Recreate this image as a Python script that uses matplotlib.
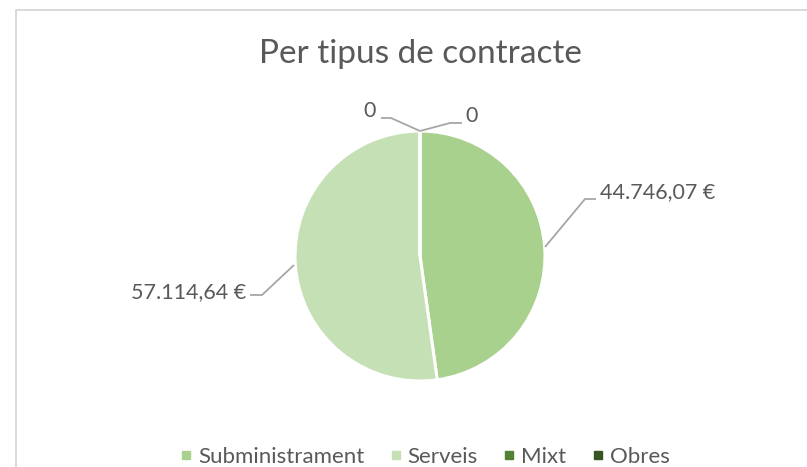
import matplotlib
matplotlib.use("Agg")
import matplotlib.pyplot as plt
from matplotlib.lines import Line2D

categories = ["Subministrament", "Serveis", "Mixt", "Obres"]
# values printed in the data labels
values = [44746.07, 57114.64, 0, 0]
# slice shares (%) as drawn in the reference picture
slice_shares = [47.8, 52.2, 0, 0]
colors = ["#A9D18E", "#C5E0B4", "#548235", "#375623"]
title = "Per tipus de contracte"

W, H = 807, 467
TXT = "#595959"
FONT = ["Lato", "DejaVu Sans"]
plt.rcParams['font.family'] = FONT

fig = plt.figure(figsize=(W / 100, H / 100), dpi=100)
ax = fig.add_axes([0, 0, 1, 1])


def Y(py):
    return H - py


cx, cy, r = 420, Y(256), 125
wedges, _ = ax.pie(slice_shares, colors=colors, startangle=90, counterclock=False,
                   center=(cx, cy), radius=r,
                   wedgeprops=dict(edgecolor="white", linewidth=2.2))
ax.set_xlim(0, W)
ax.set_ylim(0, H)
ax.set_aspect("equal")
ax.axis("off")

# chart border
ax.plot([15.5, 15.5, W + 5], [-5, Y(9.5), Y(9.5)], color="#D9D9D9", lw=1.4,
        solid_capstyle="butt", clip_on=False)


def fmt(v):
    if v == 0:
        return "0"
    s = f"{v:,.2f}".replace(",", "X").replace(".", ",").replace("X", ".")
    return s + " €"


# label layout: (text x, baseline y, ha, anchor on pie, elbow, end of leader)
layout = [
    (600, 198, "left", (545, 247), (585, 199), (596, 199)),
    (246, 298, "right", (294, 265), (262, 295), (250, 295)),
    (376, 117, "right", None, (391, 118), (381, 118)),
    (465, 122, "left", None, (450, 123), (462, 123)),
]
for v, (tx, ty, ha, anc, elb, end) in zip(values, layout):
    if anc is None:
        anc = (cx, 131)
    xs = [anc[0], elb[0], end[0]]
    ys = [Y(anc[1]), Y(elb[1]), Y(end[1])]
    ax.plot(xs, ys, color="#A6A6A6", lw=1.3, solid_capstyle="butt")
    ax.text(tx, Y(ty), fmt(v), ha=ha, va="baseline", fontsize=15.5, color=TXT)

ax.text(420, Y(63), title, ha="center", va="baseline", fontsize=24, color=TXT)

handles = [Line2D([], [], marker="s", linestyle="none", markersize=5.5,
                  markerfacecolor=c, markeredgecolor=c) for c in colors]
fig.legend(handles, categories, loc="center", bbox_to_anchor=(425 / W, 1 - 457 / H),
           ncol=4, frameon=False, fontsize=16, labelcolor=TXT,
           handlelength=0.5, handletextpad=0.3, columnspacing=1.15,
           borderaxespad=0, borderpad=0)

fig.savefig("out.png", dpi=100, facecolor="white")
